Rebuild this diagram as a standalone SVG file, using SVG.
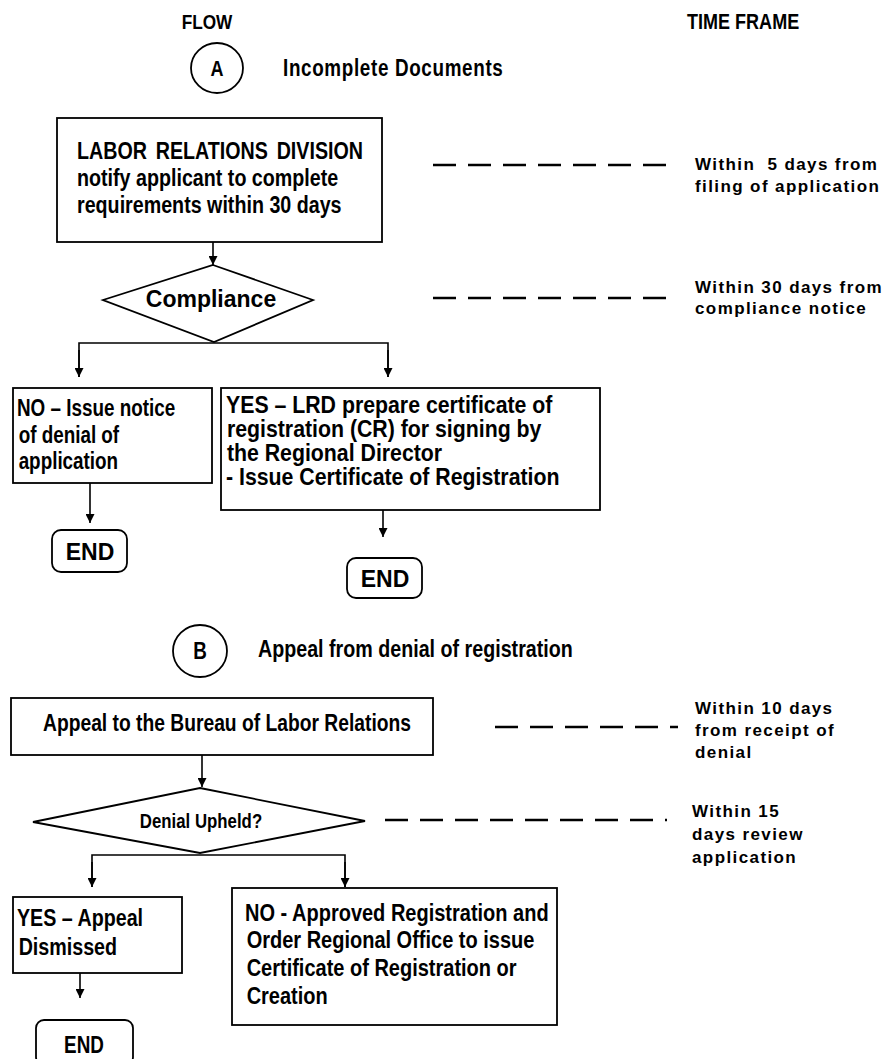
<svg xmlns="http://www.w3.org/2000/svg" width="888" height="1059" viewBox="0 0 888 1059">
<defs>
<style>
text{fill:#000;font-weight:bold;font-family:"Liberation Sans",Arial,sans-serif}
.tf{font-size:17px;letter-spacing:1.4px}
.box{fill:#fff;stroke:#000;stroke-width:1.8}
.ln{fill:none;stroke:#000;stroke-width:1.6}
.dash{fill:none;stroke:#000;stroke-width:2.6;stroke-dasharray:23 12}
</style>
<marker id="ah" viewBox="0 0 10 10" refX="10" refY="5" markerWidth="9" markerHeight="9" markerUnits="userSpaceOnUse" orient="auto">
<path d="M0,0 L10,5 L0,10 z" fill="#000"/>
</marker>
</defs>
<rect width="888" height="1059" fill="#fff"/>

<g id="headers">
<text transform="translate(207,29) scale(0.82,1)" font-size="21" text-anchor="middle">FLOW</text>
<text transform="translate(687,29) scale(0.82,1)" font-size="22">TIME FRAME</text>
</g>

<g id="connectorA">
<ellipse class="box" cx="217" cy="68" rx="26" ry="25"/>
<text transform="translate(217,76) scale(0.82,1)" font-size="22" text-anchor="middle">A</text>
<text transform="translate(283,76) scale(0.82,1)" font-size="23" letter-spacing="0.8">Incomplete Documents</text>
</g>

<g id="lrd">
<rect class="box" x="57" y="118" width="325" height="124"/>
<text transform="translate(77,0) scale(0.82,1)" font-size="24"><tspan x="0" y="159" word-spacing="4">LABOR RELATIONS DIVISION</tspan><tspan x="0" y="186">notify applicant to complete</tspan><tspan x="0" y="213">requirements within 30 days</tspan></text>
</g>

<g id="compliance">
<polygon class="box" points="213,265 313,300 214,342 103,300"/>
<text x="211" y="307" font-size="23" text-anchor="middle">Compliance</text>
</g>

<g id="denial">
<rect class="box" x="13" y="388" width="199" height="95"/>
<text transform="translate(17,0) scale(0.82,1)" font-size="23"><tspan x="0" y="416">NO – Issue notice</tspan><tspan x="2" y="443">of denial of</tspan><tspan x="2" y="469">application</tspan></text>
</g>

<g id="end1">
<rect class="box" x="52" y="530" width="75" height="42" rx="9"/>
<text x="90" y="560" font-size="23" text-anchor="middle">END</text>
</g>

<g id="certificate">
<rect class="box" x="221" y="388" width="379" height="122"/>
<text transform="translate(226,0) scale(0.91,1)" font-size="23.4"><tspan x="0" y="413">YES – LRD prepare certificate of</tspan><tspan x="1" y="437">registration (CR) for signing by</tspan><tspan x="1" y="461">the Regional Director</tspan><tspan x="0" y="485">- Issue Certificate of Registration</tspan></text>
</g>

<g id="end2">
<rect class="box" x="347" y="558" width="75" height="40" rx="9"/>
<text x="385" y="587" font-size="23" text-anchor="middle">END</text>
</g>

<g id="connectorB">
<ellipse class="box" cx="200" cy="651" rx="27" ry="26"/>
<text transform="translate(200,659) scale(0.82,1)" font-size="23" text-anchor="middle">B</text>
<text transform="translate(258,657) scale(0.82,1)" font-size="24">Appeal from denial of registration</text>
</g>

<g id="appeal">
<rect class="box" x="11" y="698" width="422" height="57"/>
<text transform="translate(43,731) scale(0.82,1)" font-size="23.5">Appeal to the Bureau of Labor Relations</text>
</g>

<g id="upheld">
<polygon class="box" points="200,788 365,821 200,853 33,822"/>
<text transform="translate(201,828) scale(0.82,1)" font-size="20.5" text-anchor="middle">Denial Upheld?</text>
</g>

<g id="dismissed">
<rect class="box" x="13" y="897" width="169" height="76"/>
<text transform="translate(17,0) scale(0.82,1)" font-size="24"><tspan x="0" y="926">YES – Appeal</tspan><tspan x="2" y="955">Dismissed</tspan></text>
</g>

<g id="end3">
<rect class="box" x="36" y="1020" width="97" height="45" rx="8"/>
<text transform="translate(84,1053) scale(0.82,1)" font-size="23" text-anchor="middle">END</text>
</g>

<g id="approved">
<rect class="box" x="232" y="888" width="325" height="137"/>
<text transform="translate(245,0) scale(0.82,1)" font-size="24.4"><tspan x="0" y="921">NO - Approved Registration and</tspan><tspan x="2" y="948">Order Regional Office to issue</tspan><tspan x="2" y="976">Certificate of Registration or</tspan><tspan x="2" y="1004">Creation</tspan></text>
</g>

<g id="timeframes">
<text class="tf"><tspan x="695" y="170" xml:space="preserve">Within  5 days from</tspan><tspan x="695" y="192">filing of application</tspan></text>
<text class="tf"><tspan x="695" y="293">Within 30 days from</tspan><tspan x="695" y="314">compliance notice</tspan></text>
<text class="tf"><tspan x="695" y="714">Within 10 days</tspan><tspan x="695" y="736">from receipt of</tspan><tspan x="695" y="758">denial</tspan></text>
<text class="tf"><tspan x="692" y="817">Within 15</tspan><tspan x="692" y="840">days review</tspan><tspan x="692" y="863">application</tspan></text>
</g>

<g id="connectors">
<line class="ln" x1="213" y1="242" x2="213" y2="265" marker-end="url(#ah)"/>
<polyline class="ln" points="79,377 79,343 388,343 388,377"/>
<line class="ln" x1="79" y1="350" x2="79" y2="377" marker-end="url(#ah)"/>
<line class="ln" x1="388" y1="350" x2="388" y2="377" marker-end="url(#ah)"/>
<line class="ln" x1="90" y1="483" x2="90" y2="523" marker-end="url(#ah)"/>
<line class="ln" x1="383" y1="510" x2="383" y2="537" marker-end="url(#ah)"/>
<line class="ln" x1="202" y1="755" x2="202" y2="787" marker-end="url(#ah)"/>
<polyline class="ln" points="92,887 92,855 345,855 345,887"/>
<line class="ln" x1="92" y1="862" x2="92" y2="887" marker-end="url(#ah)"/>
<line class="ln" x1="345" y1="862" x2="345" y2="887" marker-end="url(#ah)"/>
<line class="ln" x1="80" y1="973" x2="80" y2="998" marker-end="url(#ah)"/>
<line class="dash" x1="433" y1="165" x2="672" y2="165"/>
<line class="dash" x1="433" y1="298" x2="672" y2="298"/>
<line class="dash" x1="495" y1="727" x2="678" y2="727"/>
<line class="dash" x1="385" y1="820" x2="667" y2="820"/>
</g>
</svg>
